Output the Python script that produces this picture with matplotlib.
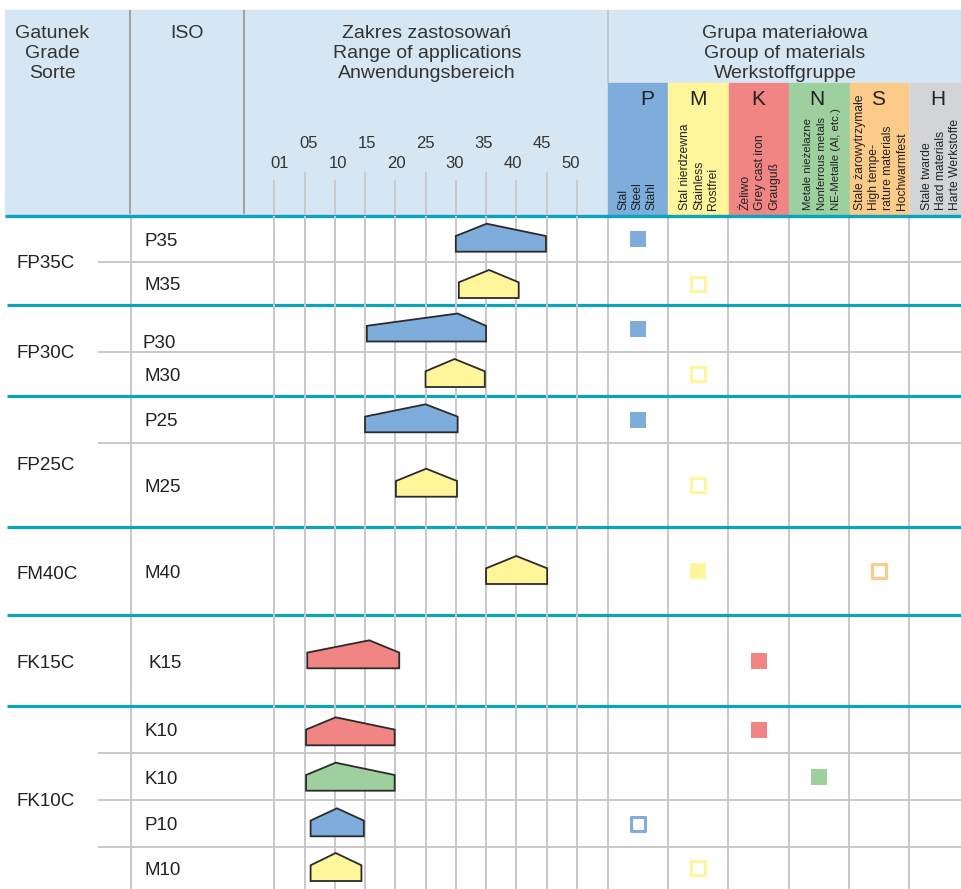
import numpy as np
import matplotlib
matplotlib.use('Agg')
import matplotlib.pyplot as plt
from matplotlib.patches import Rectangle

grades = ['FP35C', 'FP30C', 'FP25C', 'FM40C', 'FK15C', 'FK10C']
grade_rows = [2, 2, 2, 1, 1, 4]          # ISO rows belonging to each grade
iso_codes = ['P35', 'M35', 'P30', 'M30', 'P25', 'M25', 'M40', 'K15', 'K10', 'K10', 'P10', 'M10']
iso_group = ['P', 'M', 'P', 'M', 'P', 'M', 'M', 'K', 'K', 'N', 'P', 'M']
range_lo = [30, 30.5, 15.3, 25, 15, 20.1, 35, 5.45, 5.25, 5.25, 6, 6]
range_peak = [35.1, 35.5, 30.3, 29.8, 25, 25.1, 40, 15.7, 10.15, 10.15, 10.35, 10.15]
range_hi = [44.9, 40.4, 35, 34.8, 30.3, 30.2, 45.1, 20.65, 19.9, 19.9, 14.8, 14.4]
# material group marks per row: (group, filled)
marks = [[('P', True)], [('M', False)], [('P', True)], [('M', False)], [('P', True)],
         [('M', False)], [('M', True), ('S', False)], [('K', True)], [('K', True)],
         [('N', True)], [('P', False)], [('M', False)]]

iso_ticks = [1, 5, 10, 15, 20, 25, 30, 35, 40, 45, 50]
tick_labels = ['01', '05', '10', '15', '20', '25', '30', '35', '40', '45', '50']

groups = ['P', 'M', 'K', 'N', 'S', 'H']
group_colors = {'P': '#7eaddc', 'M': '#fff59b', 'K': '#f08583',
                'N': '#9ecf9e', 'S': '#fccb8a', 'H': '#d3d4d6'}
group_texts = {
    'P': ['Stal', 'Steel', 'Stahl'],
    'M': ['Stal nierdzewna', 'Stainless', 'Rostfrei'],
    'K': ['Żeliwo', 'Grey cast iron', 'Grauguß'],
    'N': ['Metale nieżelazne', 'Nonferrous metals', 'NE-Metalle (Al, etc.)'],
    'S': ['Stale żarowytrzymałe', 'High tempe-', 'rature materials', 'Hochwarmfest'],
    'H': ['Stale twarde', 'Hard materials', 'Harte Werkstoffe'],
}

# --- layout (pixels) ---
W, H = 961, 889
row_edges = [216, 262, 305, 352, 396, 443, 527, 615, 706, 753, 800, 847, 889]
shape_drop = [12.7, 14.5, 13, 13, 12.8, 11.7, 13, 7.8, 15.8, 14.2, 12.8, 13]
col_edges = [607.5, 667.7, 728.3, 788.7, 849.3, 909, 961]
text_dx = [0, 1, 1.5, 3, 2, 5.5]
letter_dx = [10, 0, 0, -2, -1, 3]
header_bg = '#d6e7f3'
teal = '#0ba4bc'
grid = '#c9c7c9'

plt.rcParams['font.family'] = ['Liberation Sans', 'DejaVu Sans']

fig = plt.figure(figsize=(W / 100, H / 100), dpi=100)
ax = fig.add_axes([0, 0, 1, 1])
ax.set_xlim(0, W)
ax.set_ylim(H, 0)
ax.axis('off')

# range-of-application axes: x in ISO units through a function scale
def fwd(v):
    v = np.asarray(v, dtype=float)
    return np.where(v < 5, (v - 1) / 4, v / 5)

def inv(p):
    p = np.asarray(p, dtype=float)
    return np.where(p < 1, 4 * p + 1, 5 * p)

x0_px, step_px = 274.3, 30.25
axr = fig.add_axes([x0_px / W, 0, 10 * step_px / W, 1], facecolor='none')
axr.set_xscale('function', functions=(fwd, inv))
axr.set_xlim(1, 50)
axr.set_ylim(H, 0)
axr.axis('off')

# header background
ax.add_patch(Rectangle((5, 10), W - 5, 205, color=header_bg, zorder=0))
ax.vlines([130, 244], 10, 214, color='#8e8e8e', lw=1.1, zorder=1)
ax.vlines(607.5, 10, 83, color='#c4c4c4', lw=1.2, zorder=1)

# material columns in header
for i, g in enumerate(groups):
    l, r = col_edges[i], col_edges[i + 1]
    ax.add_patch(Rectangle((l + 0.6, 83), r - l - 1.2, 132, color=group_colors[g], zorder=1))
    c = (l + r) / 2
    ax.text(c + letter_dx[i], 105, g, fontsize=15, ha='center', va='baseline', color='#222222', zorder=3)
    lines = group_texts[g]
    n = len(lines)
    fs = 8.2 if g == 'N' else 8.7
    for j, t in enumerate(lines):
        ax.text(c + text_dx[i] + (j - (n - 1) / 2) * 14, 210, t, rotation=90, fontsize=fs,
                ha='center', va='bottom', color='#222222', zorder=3,
                family=['Liberation Sans Narrow', 'Liberation Sans', 'DejaVu Sans'])

# header titles
hdr_base = [38.5, 58.5, 78.5]
for j, t in enumerate(['Gatunek', 'Grade', 'Sorte']):
    ax.text(52, hdr_base[j], t, fontsize=14, ha='center', va='baseline', color='#333333')
ax.text(187, hdr_base[0], 'ISO', fontsize=14, ha='center', va='baseline', color='#333333')
for j, t in enumerate(['Zakres zastosowań', 'Range of applications', 'Anwendungsbereich']):
    ax.text(427, hdr_base[j], t, fontsize=14, ha='center', va='baseline', color='#333333')
for j, t in enumerate(['Grupa materiałowa', 'Group of materials', 'Werkstoffgruppe']):
    ax.text(785, hdr_base[j], t, fontsize=14, ha='center', va='baseline', color='#333333')

# scale ticks and labels in header
odd = [t for k, t in enumerate(iso_ticks) if k % 2 == 1]
even = [t for k, t in enumerate(iso_ticks) if k % 2 == 0]
axr.vlines(odd, 172, 214, color=grid, lw=1.3, clip_on=False)
axr.vlines(even, 180, 214, color=grid, lw=1.3, clip_on=False)
for k, lab in enumerate(tick_labels):
    y = 148 if k % 2 == 1 else 168
    ax.text(280 + 29.1 * k, y, lab, fontsize=12, ha='center', va='baseline', color='#333333')

# body grid
axr.vlines(iso_ticks, 216, H, color=grid, lw=1.4, clip_on=False, zorder=1)
ax.vlines([130.5] + col_edges[:-1], 216, H, color=grid, lw=1.4, zorder=1)

group_starts = np.cumsum([0] + grade_rows)
sub_lines = [row_edges[r] for r in range(1, len(iso_codes)) if r not in group_starts]
ax.hlines(sub_lines, 98, W, color=grid, lw=1.4, zorder=2)
ax.hlines([row_edges[r] for r in group_starts[:-1]], 7, W, color=teal, lw=2.3, zorder=4)
ax.hlines(215.5, 5, W, color=teal, lw=2.3, zorder=4)

# grade labels
for gi, g in enumerate(grades):
    top = row_edges[group_starts[gi]]
    bot = row_edges[group_starts[gi + 1]]
    ax.text(17, (top + bot) / 2 + 8, g, fontsize=13.5, ha='left', va='baseline', color='#222222')

# ISO rows: labels, range shapes, material marks
col_center = {g: (col_edges[i] + col_edges[i + 1]) / 2 for i, g in enumerate(groups)}
col_center['H'] = 935
label_nudge = {2: (-2.5, 13)}
for r, code in enumerate(iso_codes):
    yc = (row_edges[r] + row_edges[r + 1]) / 2
    dx, dy = label_nudge.get(r, (0, 0))
    if code == 'K15':
        dx = 3
    ax.text(145 + dx, yc + 7 + dy, code, fontsize=13.5, ha='left', va='baseline', color='#222222')

    base = yc + shape_drop[r]
    xs = [range_lo[r], range_lo[r], range_peak[r], range_hi[r], range_hi[r]]
    ys = [base, base - 15.7, base - 28, base - 15.7, base]
    axr.fill(xs, ys, facecolor=group_colors[iso_group[r]], edgecolor='#2b2b2b',
             lw=1.3, zorder=5, clip_on=False)

    for g, filled in marks[r]:
        if filled:
            ax.scatter(col_center[g], yc, marker='s', s=132, color=group_colors[g],
                       linewidths=0, zorder=5)
        else:
            ax.scatter(col_center[g], yc, marker='s', s=88, facecolor='white',
                       edgecolor=group_colors[g], linewidths=2.2, zorder=5)

fig.savefig('out.png', dpi=100, facecolor='white')
